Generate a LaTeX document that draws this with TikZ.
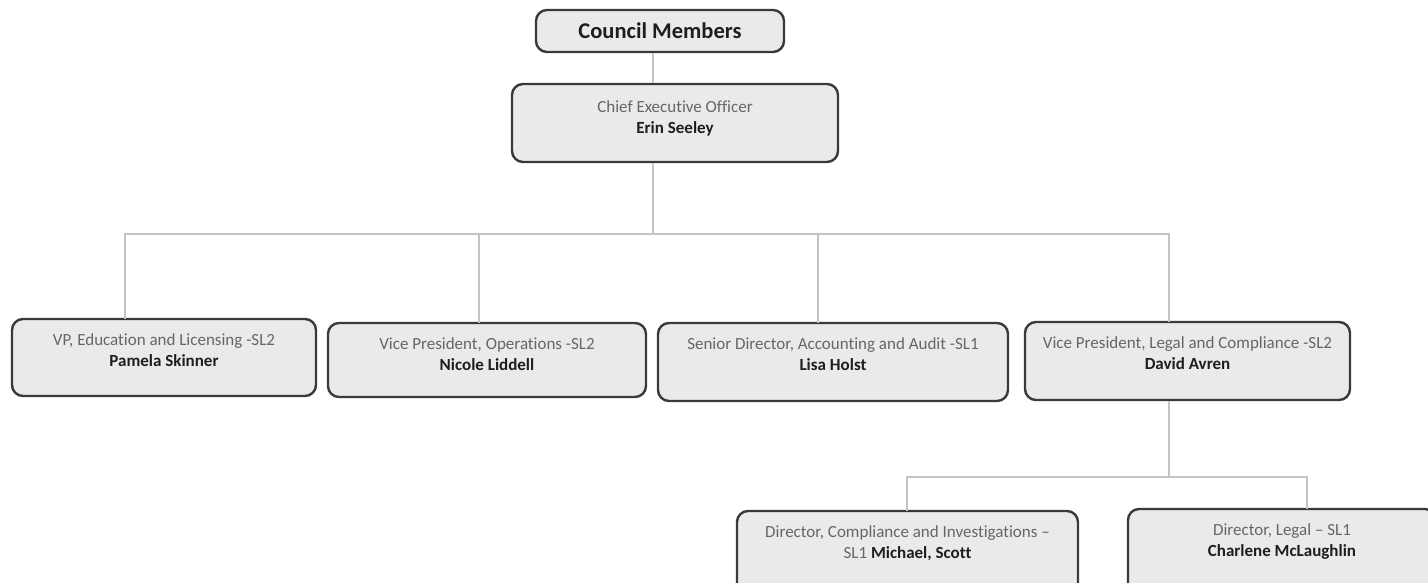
\documentclass[tikz,border=0pt]{standalone}
\usepackage{fontspec}
\setmainfont{Carlito}[Ligatures=CommonOff]
\definecolor{boxfill}{HTML}{EAEAEA}
\definecolor{boxline}{HTML}{3A3A3A}
\definecolor{linkgray}{HTML}{C4C4C4}
\definecolor{rolegray}{HTML}{666666}
\definecolor{namecol}{HTML}{1E1E1E}
\begin{document}
\begin{tikzpicture}[x=1pt,y=-1pt,
  orgbox/.style={draw=boxline, fill=boxfill, line width=2.4pt, rounded corners=11pt, inner sep=0pt},
  roletext/.style={anchor=north, inner sep=0pt, align=center, text=rolegray,
    font=\fontsize{17}{21}\selectfont},
  link/.style={draw=linkgray, line width=1.4pt}]
\useasboundingbox (0,0) rectangle (1428,583);
\clip (0,0) rectangle (1428,583);
\newcommand{\orgnode}[7][14]{% [text offset] name, left, top, right, bottom, text
  \node[orgbox, minimum width={#5-#3}, minimum height={#6-#4}] (#2) at ({(#3+#5)/2},{(#4+#6)/2}) {};
  \node[roletext] (#2t) at ({(#3+#5)/2},{#4+#1}) {#7};
}
\newcommand{\who}[1]{\textcolor{namecol}{\bfseries #1}}

% top of the chart
\node[orgbox, minimum width=248, minimum height=42, font=\fontsize{22.5}{26}\selectfont\bfseries, text=namecol]
  (council) at (660,31) {Council Members};
\orgnode[16]{ceo}{512}{84}{838}{162}{Chief Executive Officer\\\who{Erin Seeley}}

% direct reports
\orgnode{edu}{12}{319}{316}{396}{VP, Education and Licensing -SL2\\\who{Pamela Skinner}}
\orgnode{ops}{328}{323}{646}{397}{Vice President, Operations -SL2\\\who{Nicole Liddell}}
\orgnode{acc}{658}{323}{1008}{401}{Senior Director, Accounting and Audit -SL1\\\who{Lisa Holst}}
\orgnode{legal}{1025}{322}{1350}{400}{Vice President, Legal and Compliance -SL2\\\who{David Avren}}

% legal and compliance team
\orgnode{comp}{737}{511}{1078}{620}{Director, Compliance and Investigations --\\SL1 \who{Michael, Scott}}
\orgnode{dirlegal}{1128}{509}{1436}{620}{Director, Legal -- SL1\\\who{Charlene McLaughlin}}

% connectors
\coordinate (busA) at (653,234);
\coordinate (busB) at (1169,477);
\coordinate (dEdu) at (125,319);
\coordinate (dOps) at (479,323);
\coordinate (dAcc) at (818,323);
\coordinate (dLegal) at (1169,322);
\coordinate (dComp) at (907,511);
\coordinate (dDirLegal) at (1307,509);

\draw[link] (council.south -| busA) -- (ceo.north -| busA);
\draw[link] (ceo.south -| busA) -- (busA);
\draw[link] (busA) -| (dEdu);
\draw[link] (busA) -| (dOps);
\draw[link] (busA) -| (dAcc);
\draw[link] (busA) -| (dLegal);
\draw[link] (legal.south -| busB) -- (busB);
\draw[link] (busB) -| (dComp);
\draw[link] (busB) -| (dDirLegal);
\end{tikzpicture}
\end{document}
